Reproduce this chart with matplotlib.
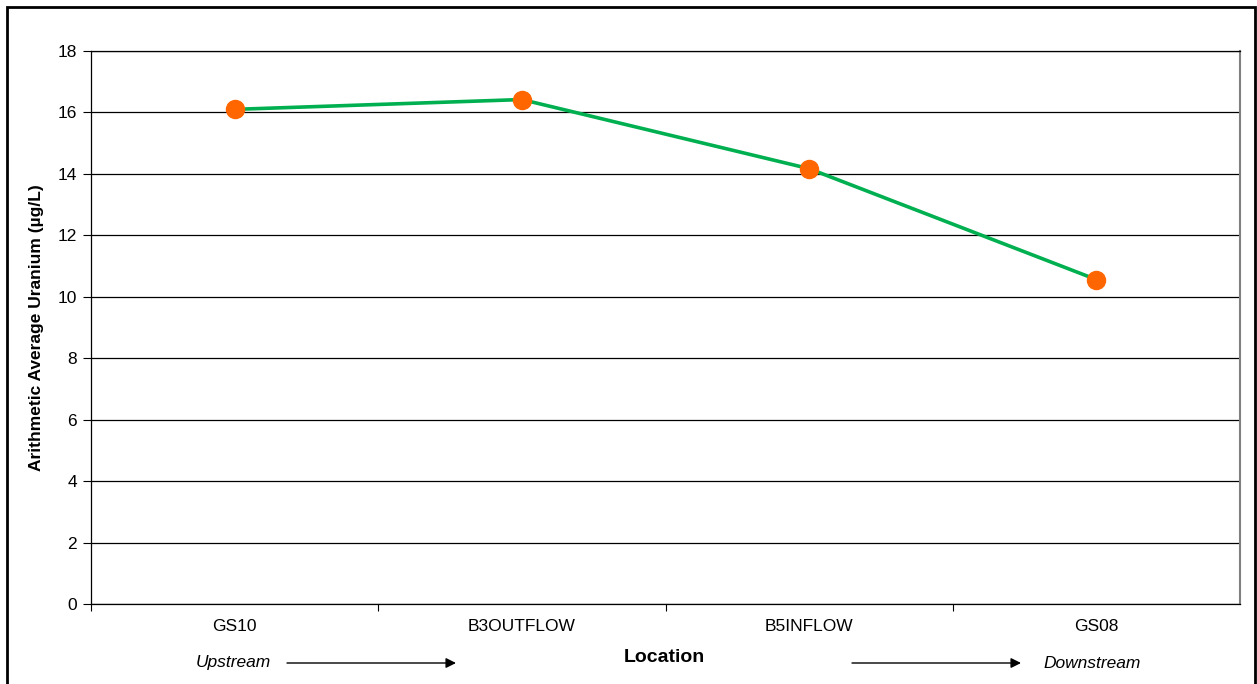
import matplotlib
matplotlib.use('Agg')
import matplotlib.pyplot as plt
from matplotlib.patches import Rectangle

plt.rcParams['font.family'] = ['Liberation Sans', 'DejaVu Sans']

# locations along the stream, upstream to downstream
locations = ['GS10', 'B3OUTFLOW', 'B5INFLOW', 'GS08']
# arithmetic average uranium (ug/L)
uranium = [16.1, 16.42, 14.17, 10.56]

W, H = 1257, 684
fig = plt.figure(figsize=(W / 100, H / 100), dpi=100)
ax = fig.add_axes([91 / W, 1 - 604 / H, (1240 - 91) / W, (604 - 51) / H])

xpos = [i + 0.5 for i in range(len(locations))]
ax.plot(xpos, uranium, color='#00B050', lw=2.6, zorder=3)
ax.plot(xpos, uranium, 'o', color='#FF6600', ms=13, zorder=4)

ax.set_xlim(0, len(locations))
ax.set_ylim(0, 18)
ax.set_yticks(range(0, 19, 2))
ax.grid(axis='y', color='black', lw=0.9)
ax.set_axisbelow(True)

# category labels centred between the tick marks
ax.set_xticks(range(0, len(locations)))
ax.set_xticklabels([])
ax.set_xticks(xpos, minor=True)
ax.set_xticklabels(locations, minor=True, fontsize=12.5)
ax.tick_params(axis='x', which='minor', length=0, pad=11)
ax.tick_params(axis='x', which='major', length=5, color='black', width=0.8)
ax.tick_params(axis='y', length=6, width=0.8, labelsize=12.5, pad=4)

for s in ['left', 'bottom', 'top']:
    ax.spines[s].set_color('black')
    ax.spines[s].set_linewidth(0.9)
ax.spines['right'].set_color('#808080')
ax.spines['right'].set_linewidth(1.5)

ax.set_ylabel('Arithmetic Average Uranium (µg/L)', fontsize=12.5, fontweight='bold', labelpad=10)

# bottom annotations
def fx(px):
    return px / W

def fy(py):
    return 1 - py / H

fig.text(fx(664), fy(658), 'Location', ha='center', va='center', fontsize=14, fontweight='bold')
fig.text(fx(233), fy(663), 'Upstream', ha='center', va='center', fontsize=12.5, style='italic')
fig.text(fx(1092), fy(663), 'Downstream', ha='center', va='center', fontsize=12.5, style='italic')
for x0, x1 in [(287, 456), (852, 1021)]:
    fig.add_artist(matplotlib.patches.FancyArrowPatch(
        (fx(x0), fy(663)), (fx(x1), fy(663)), transform=fig.transFigure,
        arrowstyle='-|>', mutation_scale=15, lw=1, color='black',
        shrinkA=0, shrinkB=0))

# outer frame
fig.add_artist(Rectangle((7 / W, -0.05), (1255 - 7) / W, 1.05 - 7 / H,
                         transform=fig.transFigure, fill=False, ec='black', lw=2))

fig.savefig('out.png', dpi=100)
